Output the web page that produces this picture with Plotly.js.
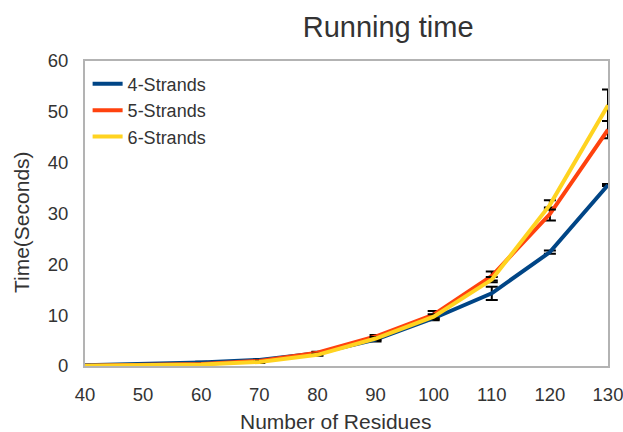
<!DOCTYPE html>
<html>
<head>
<meta charset="utf-8">
<script src="https://cdn.plot.ly/plotly-3.0.1.min.js"></script>
<style>html,body{margin:0;padding:0;background:#fff;}#chart{width:623px;height:432px;}</style>
</head>
<body>
<div id="chart"></div>
<script>
var residues = [40, 50, 60, 70, 80, 90, 100, 110, 120, 130];
var strands4 = [0.15, 0.4, 0.7, 1.2, 2.5, 5.2, 9.4, 14.3, 22.4, 35.6];
var err4     = [0.1, 0.1, 0.15, 0.2, 0.2, 0.4, 0.4, 1.3, 0.3, 0.2];
var strands5 = [0.05, 0.2, 0.4, 1.0, 2.6, 5.8, 10.1, 17.7, 29.9, 46.5];
var err5     = [0.05, 0.1, 0.1, 0.2, 0.2, 0.3, 0.7, 0.9, 1.3, 1.7];
var strands6 = [0.05, 0.1, 0.3, 0.8, 2.2, 5.4, 9.7, 17.0, 31.7, 51.3];
var err6     = [0.05, 0.1, 0.1, 0.2, 0.2, 0.3, 0.5, 0.5, 0.9, 3.1];
var names = ['4-Strands', '5-Strands', '6-Strands'];
var colors = ['#004586', '#ff420e', '#ffd320'];

function mk(y, e, i) {
  return {
    x: residues, y: y, name: names[i], type: 'scatter', mode: 'lines',
    line: {color: colors[i], width: 4},
    cliponaxis: false,
    error_y: {type: 'data', array: e, visible: true, color: '#000', thickness: 2, width: 6}
  };
}
var data = [mk(strands4, err4, 0), mk(strands5, err5, 1), mk(strands6, err6, 2)];

var fam = '"Liberation Sans", Arial, sans-serif';
var layout = {
  width: 623, height: 432,
  margin: {l: 85, r: 15, t: 61, b: 66},
  paper_bgcolor: '#fff', plot_bgcolor: '#fff',
  font: {family: fam, color: '#333', size: 18},
  title: {text: 'Running time', font: {family: fam, size: 29, color: '#333'}, x: 0.623, xanchor: 'center', y: 0.9375, yanchor: 'middle'},
  xaxis: {
    range: [40, 130], tickvals: residues, showgrid: false, zeroline: false,
    showline: true, linecolor: '#b3b3b3', linewidth: 2, mirror: true,
    ticks: '', ticklabelstandoff: 11, ticklabeloverflow: 'allow',
    tickfont: {size: 18.5, color: '#333'}
  },
  yaxis: {
    range: [0, 60], dtick: 10, showgrid: false, zeroline: false,
    showline: true, linecolor: '#b3b3b3', linewidth: 2, mirror: true,
    ticks: '', ticklabelstandoff: 11,
    tickfont: {size: 18.5, color: '#333'}
  },
  annotations: [
    {text: 'Number of Residues', xref: 'paper', yref: 'paper', x: 0.479, y: 0, xanchor: 'center', yanchor: 'middle', yshift: -55, showarrow: false, font: {size: 21, color: '#333'}},
    {text: 'Time(Seconds)', xref: 'paper', yref: 'paper', x: 0, y: 0.472, xanchor: 'center', yanchor: 'middle', xshift: -64, textangle: -90, showarrow: false, font: {size: 21, color: '#333'}}
  ],
  legend: {x: 0.005, y: 0.985, xanchor: 'left', yanchor: 'top', bgcolor: 'rgba(0,0,0,0)', font: {size: 18, color: '#333'}, tracegroupgap: 0},
  showlegend: true
};
Plotly.newPlot('chart', data, layout, {staticPlot: true});
</script>
</body>
</html>
